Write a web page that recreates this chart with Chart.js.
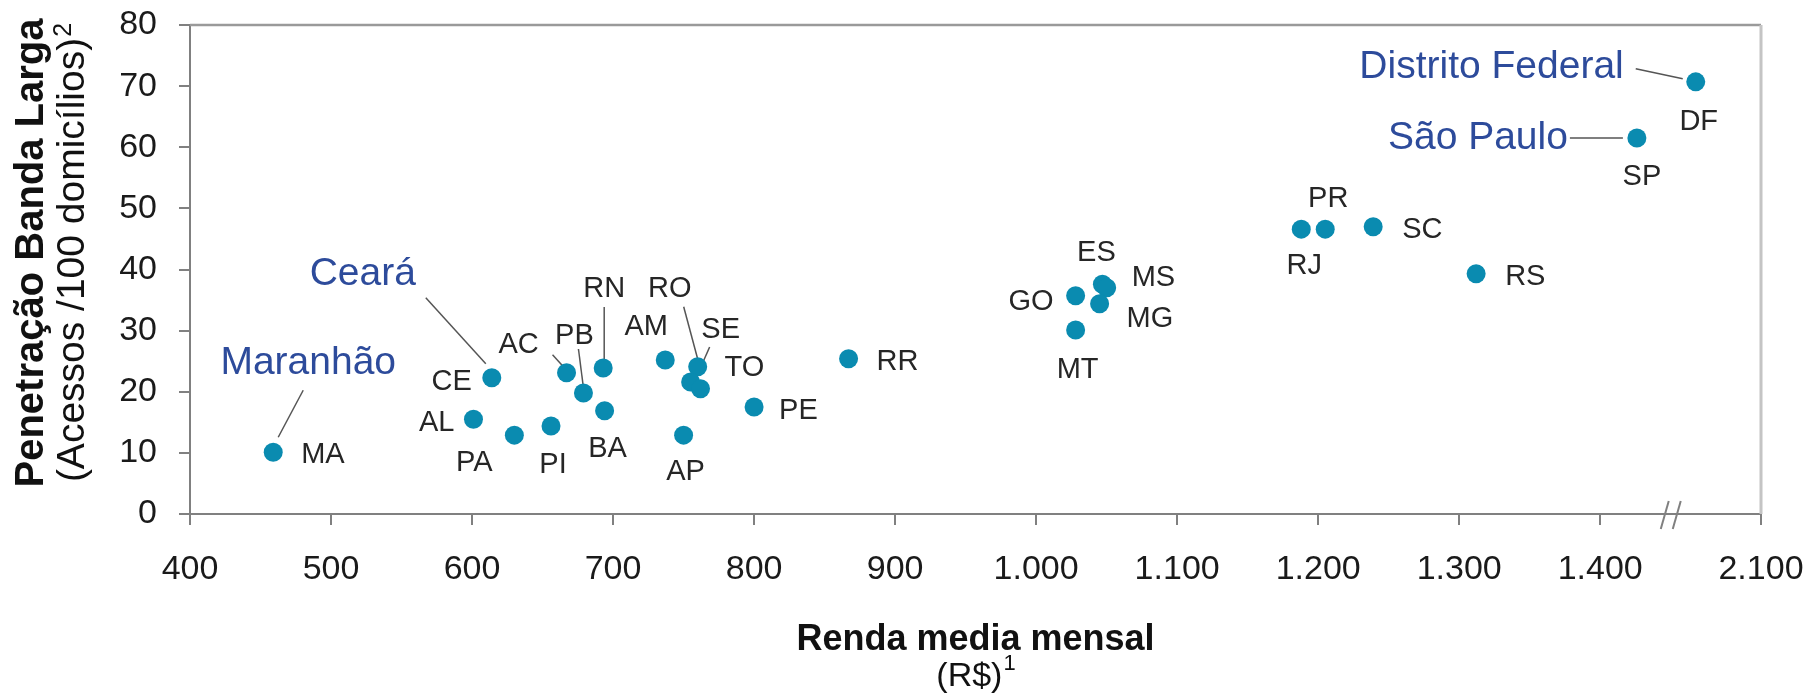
<!DOCTYPE html>
<html>
<head>
<meta charset="utf-8">
<script src="https://cdn.jsdelivr.net/npm/chart.js@4.4.1/dist/chart.umd.min.js"></script>
<style>
  html, body { margin: 0; padding: 0; background: #fff; }
  canvas { display: block; }
</style>
</head>
<body>
<canvas id="chart" width="1814" height="699"></canvas>
<script>
// Data: renda media mensal (R$) x penetração banda larga (acessos/100 domicílios)
const states     = ['MA','CE','AL','PA','PI','AC','PB','RN','BA','AM','AP','RO','SE','TO','PE','RR','GO','ES','MS','MG','MT','RJ','PR','SC','RS','SP','DF'];
const renda      = [459, 614, 601, 630, 656, 667, 679, 693, 694, 737, 750, 760, 755, 762, 800, 867, 1028, 1047, 1050, 1045, 1028, 1188, 1205, 1239, 1312, 1426, 1630];
const penetracao = [10.1, 22.3, 15.5, 12.9, 14.4, 23.1, 19.8, 23.9, 16.9, 25.2, 12.9, 24.1, 21.6, 20.5, 17.5, 25.4, 35.7, 37.6, 37.0, 34.4, 30.1, 46.6, 46.6, 47.0, 39.3, 61.5, 70.7];
const xTicks = [400, 500, 600, 700, 800, 900, 1000, 1100, 1200, 1300, 1400, 2100];
const yTicks = [0, 10, 20, 30, 40, 50, 60, 70, 80];
const callouts = { MA: 'Maranhão', CE: 'Ceará', SP: 'São Paulo', DF: 'Distrito Federal' };

const xTitle = 'Renda media mensal', xSub = '(R$)', xSup = '1';
const yTitle = 'Penetração Banda Larga', ySub = '(Acessos /100 domicílios)', ySup = '2';

// axis break: values above BRK are squeezed into the last strip
const BRK = 1450, X_END = 2100, VIS_END = 1514;

// label placement, pixels relative to the point: [dx, dy, align]
const labelPos = {
  MA:[28,3,'left'], CE:[-20,4,'right'], AL:[-19,4,'right'], PA:[-40,28,'center'], PI:[2,39,'center'],
  AC:[-48,-28,'center'], PB:[-9,-57,'center'], RN:[1,-79,'center'], BA:[3,38,'center'], AM:[-19,-33,'center'],
  AP:[2,37,'center'], RO:[-28,-78,'center'], SE:[30,-52,'center'], TO:[24,-21,'left'], PE:[25,4,'left'],
  RR:[28,3,'left'], GO:[-22,6,'right'], ES:[-6,-31,'center'], MS:[25,-10,'left'], MG:[27,15,'left'],
  MT:[2,40,'center'], RJ:[3,37,'center'], PR:[3,-30,'center'], SC:[29,3,'left'], RS:[29,3,'left'],
  SP:[5,39,'center'], DF:[3,40,'center']
};
const calloutPos = { MA:[35,-89,'center'], CE:[-129,-103,'center'], SP:[-69,0,'right'], DF:[-72,-15,'right'] };
// leader lines [x1, y1, x2, y2] relative to the point
const leaders = {
  MA:[30,-62,5,-15], CE:[-66,-80,-6,-14], AC:[-14,-18,-4,-7], PB:[-5,-44,0,-5], RN:[1,-61,1,-7],
  RO:[-14,-60,1,-4], SE:[19,-35,8,-10], DF:[-60,-13,-13,-3], SP:[-67,0,-14,0]
};

const FONT = "'Liberation Sans', Arial, sans-serif";
const AXIS = '#808080';

class BrokenLinearScale extends Chart.LinearScale {
  squash(v){ return v <= BRK ? v : BRK + (v - BRK) * (VIS_END - BRK) / (X_END - BRK) }
  getPixelForValue(v){ return this.getPixelForDecimal((this.squash(v) - this.min) / (VIS_END - this.min)) }
  getValueForPixel(p){
    const u = this.min + this.getDecimalForPixel(p) * (VIS_END - this.min)
    return u <= BRK ? u : BRK + (u - BRK) * (X_END - BRK) / (VIS_END - BRK)
  }
}
BrokenLinearScale.id = 'brokenLinear'
BrokenLinearScale.defaults = Chart.LinearScale.defaults
Chart.register(BrokenLinearScale)

function fmtThousands(v){
  return v >= 1000 ? Math.floor(v/1000) + '.' + String(v % 1000).padStart(3, '0') : String(v)
}

function textWithSup(ctx, main, sup, cx, y, mainFont, supFont){
  ctx.font = mainFont
  const w1 = ctx.measureText(main).width
  ctx.font = supFont
  const w2 = ctx.measureText(sup).width
  const x0 = cx - (w1 + w2) / 2
  ctx.textAlign = 'left'
  ctx.font = mainFont
  ctx.fillText(main, x0, y)
  ctx.font = supFont
  ctx.fillText(sup, x0 + w1 + 1, y - 13)
}

const annotations = {
  id: 'annotations',
  beforeDatasetsDraw(chart){
    const ctx = chart.ctx, pts = chart.getDatasetMeta(0).data
    ctx.save()
    ctx.strokeStyle = '#555'; ctx.lineWidth = 1.5
    states.forEach((s, i) => {
      const l = leaders[s]; if (!l) return
      const p = pts[i]
      ctx.beginPath(); ctx.moveTo(p.x + l[0], p.y + l[1]); ctx.lineTo(p.x + l[2], p.y + l[3]); ctx.stroke()
    })
    ctx.restore()
  },
  afterDatasetsDraw(chart){
    const ctx = chart.ctx, pts = chart.getDatasetMeta(0).data
    ctx.save()
    ctx.textBaseline = 'middle'
    states.forEach((s, i) => {
      const p = pts[i], o = labelPos[s]
      ctx.font = '29px ' + FONT; ctx.fillStyle = '#262626'; ctx.textAlign = o[2]
      ctx.fillText(s, p.x + o[0], p.y + o[1])
      if (callouts[s]){
        const c = calloutPos[s]
        ctx.font = '39px ' + FONT; ctx.fillStyle = '#2d4b9b'; ctx.textAlign = c[2]
        ctx.fillText(callouts[s], p.x + c[0], p.y + c[1])
      }
    })
    ctx.restore()
  },
  afterDraw(chart){
    const ctx = chart.ctx, a = chart.chartArea, xs = chart.scales.x
    ctx.save()
    // frame: top and right
    ctx.strokeStyle = '#9a9a9a'; ctx.lineWidth = 2.5
    ctx.beginPath(); ctx.moveTo(a.left, a.top); ctx.lineTo(a.right, a.top); ctx.stroke()
    ctx.strokeStyle = '#c4c4c4'; ctx.lineWidth = 3
    ctx.beginPath(); ctx.moveTo(a.right, a.top); ctx.lineTo(a.right, a.bottom); ctx.stroke()
    // axis break marks
    const bx = xs.getPixelForValue(BRK)
    ctx.strokeStyle = AXIS; ctx.lineWidth = 2
    ;[-6, 6].forEach(d => {
      ctx.beginPath(); ctx.moveTo(bx + d - 4, a.bottom + 15); ctx.lineTo(bx + d + 4, a.bottom - 13); ctx.stroke()
    })
    // axis titles
    ctx.fillStyle = '#111'; ctx.textBaseline = 'middle'
    const cx = (a.left + a.right) / 2
    ctx.textAlign = 'center'; ctx.font = 'bold 36px ' + FONT
    ctx.fillText(xTitle, cx, 640)
    textWithSup(ctx, xSub, xSup, cx, 677, '34px ' + FONT, '22px ' + FONT)
    ctx.translate(0, 253); ctx.rotate(-Math.PI / 2)
    ctx.textBaseline = 'alphabetic'
    ctx.textAlign = 'center'; ctx.font = 'bold 40px ' + FONT
    ctx.fillText(yTitle, 0, 43)
    textWithSup(ctx, ySub, ySup, 0, 84, '39px ' + FONT, '25px ' + FONT)
    ctx.restore()
  }
}

new Chart(document.getElementById('chart'), {
  type: 'scatter',
  data: {
    datasets: [{
      data: renda.map((r, i) => ({ x: r, y: penetracao[i] })),
      backgroundColor: '#0a8bb0',
      borderWidth: 0,
      pointRadius: 9.5,
      pointHoverRadius: 9.5
    }]
  },
  options: {
    responsive: false,
    animation: false,
    events: [],
    layout: { padding: { top: 25, right: 53, left: 0, bottom: 0 } },
    plugins: { legend: { display: false }, tooltip: { enabled: false } },
    scales: {
      x: {
        type: 'brokenLinear',
        min: 400, max: X_END,
        afterBuildTicks: s => { s.ticks = xTicks.map(v => ({ value: v })) },
        afterFit: s => { s.height = 185; s.paddingLeft = 0; s.paddingRight = 0 },
        grid: { drawOnChartArea: false, drawTicks: true, tickLength: 11, color: AXIS, lineWidth: 2 },
        border: { display: true, color: AXIS, width: 2 },
        ticks: { autoSkip: false, maxRotation: 0, padding: 24, color: '#1a1a1a', font: { family: FONT, size: 34 }, callback: v => fmtThousands(v) }
      },
      y: {
        min: 0, max: 80,
        afterBuildTicks: s => { s.ticks = yTicks.map(v => ({ value: v })) },
        afterFit: s => { s.width = 190; s.paddingTop = 0; s.paddingBottom = 0 },
        grid: { drawOnChartArea: false, drawTicks: true, tickLength: 11, color: AXIS, lineWidth: 2 },
        border: { display: true, color: AXIS, width: 2 },
        ticks: { padding: 22, color: '#1a1a1a', font: { family: FONT, size: 34 } }
      }
    }
  },
  plugins: [annotations]
})
</script>
</body>
</html>
